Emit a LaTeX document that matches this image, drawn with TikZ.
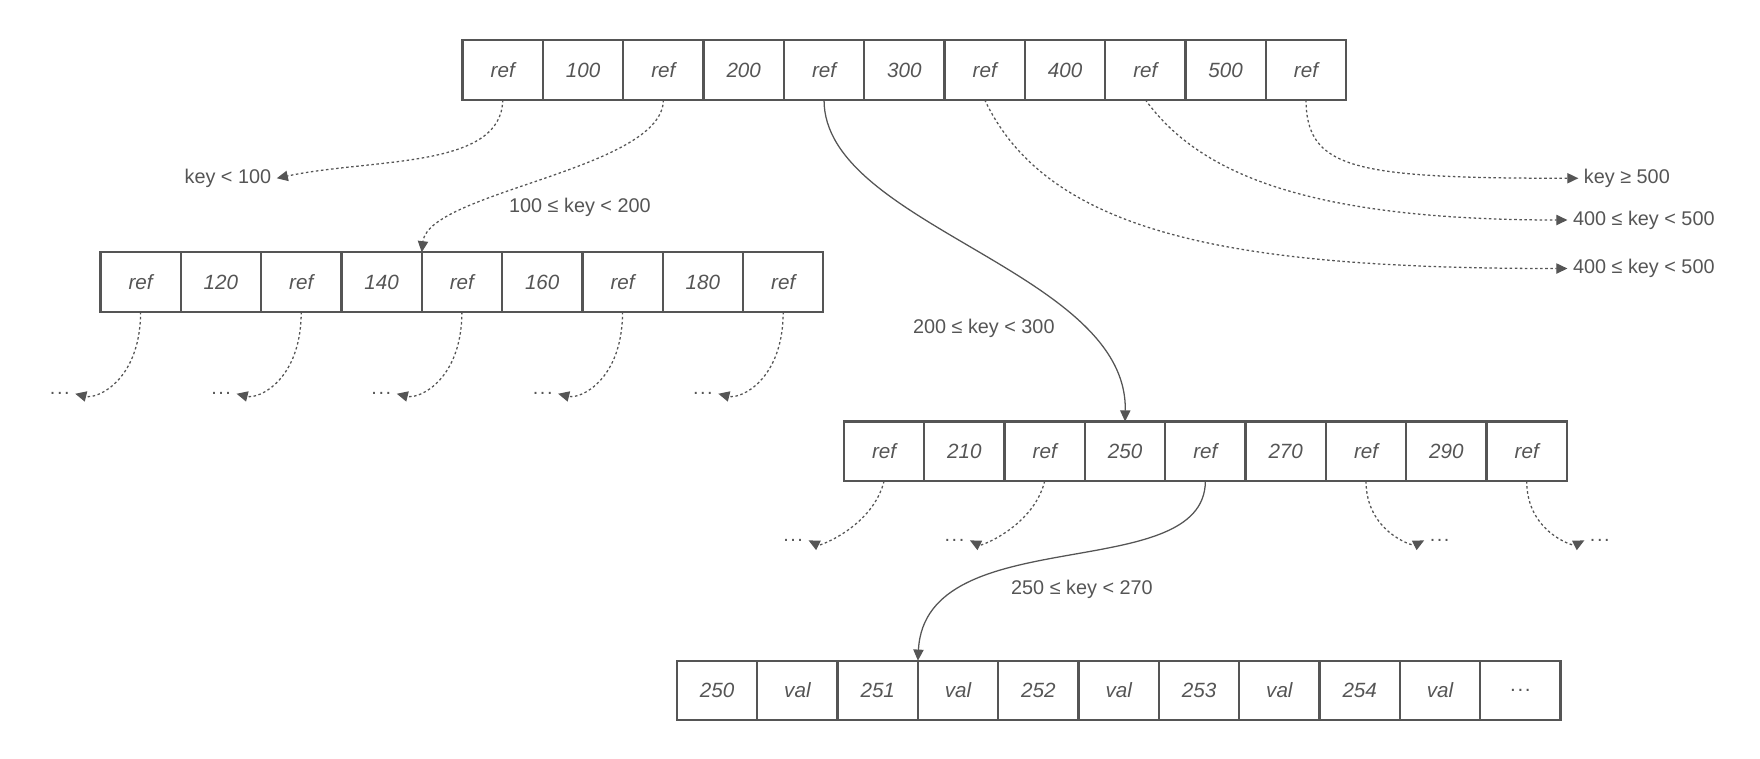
\documentclass[tikz,border=0pt]{standalone}
\usepackage{fontspec}
\setmainfont{Liberation Sans}
\usetikzlibrary{arrows.meta}
\definecolor{ink}{HTML}{555555}

\begin{document}
\begin{tikzpicture}[
  x = 0.025cm, y = 0.025cm,
  >={Triangle[length=7pt, width=6.5pt]},
  cell/.style = {draw = ink, line width = 1.4pt, minimum width = 1.78cm,
    minimum height = 1.32cm, inner sep = 0pt, outer sep = 0pt,
    font = \fontsize{13}{15}\selectfont\itshape, text = ink},
  lab/.style = {text = ink, font = \fontsize{12.5}{15}\selectfont},
  link/.style = {draw = ink, line width = 0.8pt},
  weak/.style = {link, dash pattern = on 1.6pt off 1.6pt}
  ]
  \useasboundingbox (0,0) rectangle (1560,-672);

  % Nodes
  \foreach \t [count = \i] in {ref,100,ref,200,ref,300,ref,400,ref,500,ref}
    \node [cell] (top\i) at ({410+71.2*(\i-0.5)}, -62) {\t};
  \foreach \t [count = \i] in {ref,120,ref,140,ref,160,ref,180,ref}
    \node [cell] (left\i) at ({89+71.2*(\i-0.5)}, -250) {\t};
  \foreach \t [count = \i] in {ref,210,ref,250,ref,270,ref,290,ref}
    \node [cell] (mid\i) at ({748+71.2*(\i-0.5)}, -400) {\t};
  \foreach \t [count = \i] in {250,val,251,val,252,val,253,val,254,val,{\upshape.\kern1pt.\kern1pt.}}
    \node [cell] (leaf\i) at ({600+71.2*(\i-0.5)}, -612) {\t};

  % Labels
  \node [lab] (lt100) at (202,-158) {key < 100};
  \node [lab] (l100) at (514,-184) {100 ≤ key < 200};
  \node [lab] (l200) at (872,-291) {200 ≤ key < 300};
  \node [lab] (ge500) at (1442,-158) {key ≥ 500};
  \node [lab] (l400a) at (1457,-195) {400 ≤ key < 500};
  \node [lab] (l400b) at (1457,-238) {400 ≤ key < 500};
  \node [lab] (l250) at (959,-522) {250 ≤ key < 270};
  \foreach \x/\i in {53/1,196/3,338/5,481/7,623/9}
    \node [lab] (dl\i) at (\x,-349) {.\kern1pt.\kern1pt.};
  \node [lab] (dm1) at (703,-479) {.\kern1pt.\kern1pt.};
  \node [lab] (dm3) at (846,-479) {.\kern1pt.\kern1pt.};
  \node [lab] (dm7) at (1276,-479) {.\kern1pt.\kern1pt.};
  \node [lab] (dm9) at (1418,-479) {.\kern1pt.\kern1pt.};

  % Pointers
  \draw [weak, ->] (top1.south) .. controls (445,-150) and (330,-140) .. (lt100.east);
  \draw [weak, ->] (top3.south) .. controls (588,-150) and (380,-170) .. (left5.north west);
  \draw [link, ->] (top5.south) .. controls (730,-200) and (1000,-240) .. (mid4.north);
  \draw [weak, ->] (top7.south) .. controls (930,-210) and (1100,-238) .. (l400b.west);
  \draw [weak, ->] (top9.south) .. controls (1060,-150) and (1150,-195) .. (l400a.west);
  \draw [weak, ->] (top11.south) .. controls (1158,-150) and (1200,-158) .. (ge500.west);

  \foreach \i in {1,3,5,7,9}
    \draw [weak, ->] (left\i.south) .. controls +(0,-60) and +(20,-5) .. (dl\i.east);
  \draw [weak, ->] (mid1.south) .. controls +(-10,-40) and +(10,-5) .. (dm1.east);
  \draw [weak, ->] (mid3.south) .. controls +(-10,-40) and +(10,-5) .. (dm3.east);
  \draw [weak, ->] (mid7.south) .. controls +(0,-45) and +(-10,-5) .. (dm7.west);
  \draw [weak, ->] (mid9.south) .. controls +(0,-45) and +(-10,-5) .. (dm9.west);
  \draw [link, ->] (mid5.south) .. controls (1068,-520) and (820,-460) .. (leaf4.north west);
\end{tikzpicture}
\end{document}
